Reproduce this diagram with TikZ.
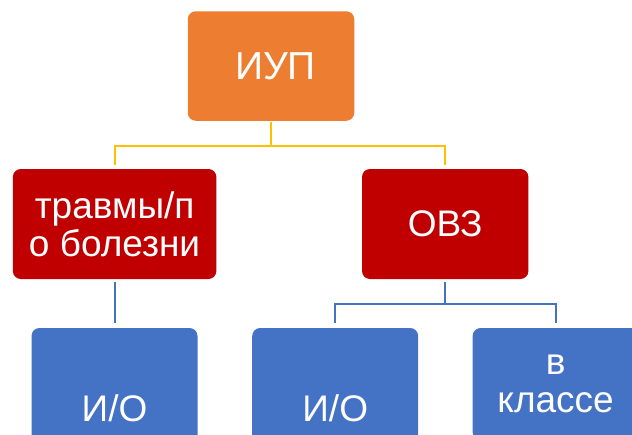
\documentclass[tikz,border=0pt]{standalone}
\usepackage{fontspec}
\setmainfont{Liberation Sans}
\usepackage{xcolor}
\usepackage{tikz}
\definecolor{iuporange}{HTML}{ED7D31}
\definecolor{boxred}{HTML}{C00000}
\definecolor{boxblue}{HTML}{4472C4}
\definecolor{lineyellow}{HTML}{FFC000}

\begin{document}
\begin{tikzpicture}[x=1pt,y=-1pt,line width=2pt,
  box/.style={rounded corners=8pt,text=white,align=center,inner sep=0pt,
    font=\fontsize{37}{38}\selectfont},
  topbox/.style={box,fill=iuporange,minimum width=166.5pt,minimum height=109.5pt},
  midbox/.style={box,fill=boxred,minimum height=110pt},
  lowbox/.style={box,fill=boxblue,minimum width=166pt},
  yline/.style={draw=lineyellow,shorten >=3pt},
  bline/.style={draw=boxblue,shorten >=4pt}]
\clip (0,0) rectangle (632,434);

\node[topbox,font=\fontsize{39}{40}\selectfont] (iup) at (271,66) {\hspace*{9pt}ИУП};
\node[midbox,minimum width=203.5pt] (trav) at (114.6,224) {травмы/п\\о болезни};
\node[midbox,minimum width=166.4pt] (ovz) at (445.2,224) {ОВЗ};
\node[lowbox,minimum height=160pt] (io1) at (114.5,408) {И/О};
\node[lowbox,minimum height=160pt] (io2) at (335.2,408) {И/О};
\node[lowbox,minimum height=112pt] (klass) at (555.6,384) {в\\классе};

\path (iup.south) ++(0,24) coordinate (ja);
\path (ovz.south) ++(0,24) coordinate (jb);

\draw[yline] (iup.south) -- (ja) -| (trav.north);
\draw[yline] (ja) -| (ovz.north);
\draw[bline,shorten <=2pt] (trav.south) -- (trav.south |- io1.north);
\draw[bline,shorten <=2pt] (ovz.south) -- (jb) -| (io2.north);
\draw[bline] (jb) -| (klass.north);

\end{tikzpicture}
\end{document}
